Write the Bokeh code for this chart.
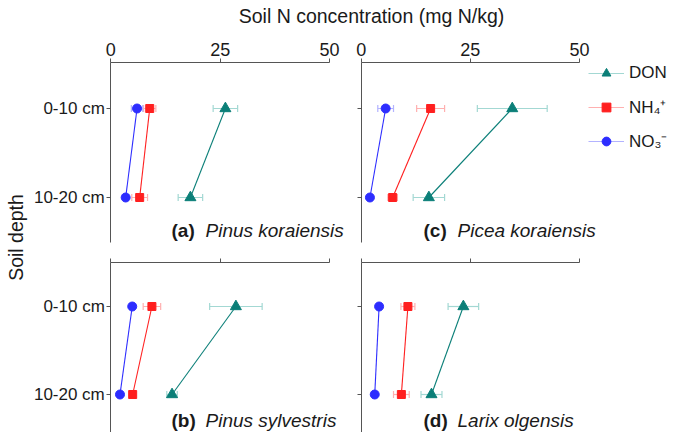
import numpy as np
from bokeh.plotting import figure
from bokeh.models import (ColumnDataSource, Range1d, FixedTicker, Label,
                          Legend, LegendItem, LinearAxis)
from bokeh.embed import file_html
from bokeh.resources import INLINE

# ---------------- data ----------------
depths = ["0-10 cm", "10-20 cm"]
depth_pos = [0, 1]
x_ticks = [0, 25, 50]
panel_letters = ["a", "c", "b", "d"]
species = ["Pinus koraiensis", "Picea koraiensis", "Pinus sylvestris", "Larix olgensis"]
series_names = ["DON", "NH\u2084\u207a", "NO\u2083\u207b"]

don_mean = [[26.2, 18.2], [34.6, 15.5], [28.6, 14.0], [23.4, 16.1]]
don_err = [[2.8, 2.8], [8.0, 3.6], [6.0, 1.2], [3.5, 2.4]]
nh4_mean = [[8.9, 6.6], [15.9, 7.2], [9.4, 5.0], [10.7, 9.2]]
nh4_err = [[1.4, 1.8], [3.2, 1.1], [2.0, 0.5], [1.6, 1.8]]
no3_mean = [[6.0, 3.4], [5.6, 2.0], [4.9, 2.1], [4.1, 3.1]]
no3_err = [[1.3, 0.6], [1.8, 0.5], [0.5, 0.4], [0.5, 0.5]]

# ---------------- layout constants (canvas pixels) ----------------
FONT = "Liberation Sans"
AXIS_C = "#555555"
TEXT_C = "#1a1a1a"
CX0, CX1, CY0, CY1 = 0, 669, 0, 432
W, H = CX1 - CX0, CY1 - CY0
COLS = {"xl": (110.3, 329.0), "xr": (360.7, 579.0)}      # pixel of x=0 and x=50
ROWS = {"yt": (108.0, 197.0, 62.0, 242.0),               # pixel of depth 0, depth 1, top, bottom
        "yb": (306.0, 394.0, 262.0, 432.0)}

styles = [
    dict(dark="#0b7f78", light="#a3d8d3", marker="triangle", size=11),
    dict(dark="#ff1f1f", light="#ffb0b0", marker="square", size=8),
    dict(dark="#2d2dff", light="#b3b3ff", marker="circle", size=9),
]
means = [don_mean, nh4_mean, no3_mean]
errs = [don_err, nh4_err, no3_err]


def xval(name, px):
    p0, p50 = COLS[name]
    return (px - p0) / (p50 - p0) * 50.0


def yval(name, py):
    p0, p1 = ROWS[name][:2]
    return (py - p0) / (p1 - p0)


p = figure(width=W, height=H, title=None, output_backend="svg", toolbar_location=None,
           x_axis_location=None, y_axis_location=None, min_border=0,
           x_range=Range1d(CX0, CX1), y_range=Range1d(CY1, CY0))
p.outline_line_color = None
p.background_fill_color = "white"
p.border_fill_color = "white"
p.grid.visible = False

p.extra_x_ranges = {n: Range1d(xval(n, CX0), xval(n, CX1)) for n in COLS}
p.extra_y_ranges = {n: Range1d(yval(n, CY1), yval(n, CY0)) for n in ROWS}

panel_ranges = [("xl", "yt"), ("xr", "yt"), ("xl", "yb"), ("xr", "yb")]
label_base = {"yt": 230, "yb": 420}
label_left = {"xl": (171, 205), "xr": (423, 457)}

legend_src = None
for i, (xn, yn) in enumerate(panel_ranges):
    show_x = yn == "yt"
    show_y = xn == "xl"
    top_px, bot_px = ROWS[yn][2], ROWS[yn][3]

    xa = LinearAxis(x_range_name=xn, y_range_name=yn, fixed_location=yval(yn, top_px),
                    bounds=(0, 50), ticker=FixedTicker(ticks=x_ticks))
    ya = LinearAxis(x_range_name=xn, y_range_name=yn, fixed_location=0,
                    bounds=(yval(yn, top_px), yval(yn, bot_px)),
                    ticker=FixedTicker(ticks=depth_pos))
    for ax in (xa, ya):
        ax.minor_tick_line_color = None
        ax.major_tick_in = 0
        ax.major_tick_out = 4
        ax.axis_line_color = AXIS_C
        ax.major_tick_line_color = AXIS_C
        ax.major_label_text_font = FONT
        ax.major_label_text_color = TEXT_C
    xa.major_label_standoff = 3
    ya.major_label_standoff = 2
    if show_x:
        xa.major_label_text_font_size = "18px"
    else:
        xa.major_label_overrides = {t: "" for t in x_ticks}
        xa.major_label_text_font_size = "0px"
    if show_y:
        ya.major_label_overrides = {d: t for d, t in zip(depth_pos, depths)}
        ya.major_label_text_font_size = "17px"
    else:
        ya.major_label_overrides = {d: "" for d in depth_pos}
        ya.major_label_text_font_size = "0px"
    p.add_layout(xa, "above")
    p.add_layout(ya, "left")

    sources = []
    for s in range(3):
        m = np.array(means[s][i])
        e = np.array(errs[s][i])
        sources.append(ColumnDataSource(dict(x=m, y=depth_pos, lo=m - e, hi=m + e)))

    kw = dict(x_range_name=xn, y_range_name=yn)
    err_r = []
    for s in range(3):
        st = styles[s]
        r = p.segment(x0="lo", y0="y", x1="hi", y1="y", source=sources[s],
                      line_color=st["light"], line_width=1.2, **kw)
        err_r.append(r)
        for col in ("lo", "hi"):
            p.scatter(x=col, y="y", source=sources[s], marker="dash", angle=np.pi / 2,
                      size=7, line_color=st["light"], line_width=1.2, **kw)
    for s in range(3):
        st = styles[s]
        p.line(x="x", y="y", source=sources[s], line_color=st["dark"], line_width=1.1, **kw)
    mk_r = []
    for s in range(3):
        st = styles[s]
        r = p.scatter(x="x", y="y", source=sources[s], marker=st["marker"],
                      size=st["size"], fill_color=st["dark"], line_color=st["dark"], **kw)
        mk_r.append(r)
    if i == 0:
        legend_src = (err_r, mk_r)

    lx0, lx1 = label_left[xn]
    p.add_layout(Label(x=lx0, y=label_base[yn], text="(" + panel_letters[i] + ")",
                       text_font=FONT, text_font_size="19px", text_font_style="bold",
                       text_color=TEXT_C, text_baseline="alphabetic"))
    p.add_layout(Label(x=lx1, y=label_base[yn], text=species[i],
                       text_font=FONT, text_font_size="19px", text_font_style="italic",
                       text_color=TEXT_C, text_baseline="alphabetic"))

# titles
p.add_layout(Label(x=371, y=15.5, text="Soil N concentration (mg N/kg)",
                   text_align="center", text_baseline="alphabetic",
                   text_font=FONT, text_font_size="19.5px", text_color=TEXT_C))
p.add_layout(Label(x=15.5, y=237, text="Soil depth", angle=np.pi / 2,
                   text_align="center", text_baseline="alphabetic",
                   text_font=FONT, text_font_size="19.5px", text_color=TEXT_C))

# legend
err_r, mk_r = legend_src
items = [LegendItem(label=series_names[s], renderers=[err_r[s], mk_r[s]]) for s in range(3)]
lg = Legend(items=items, location=(588 - CX0, CY1 - 152), margin=0, padding=0,
            spacing=11, glyph_width=36, glyph_height=22, label_height=22,
            label_standoff=5, label_text_font=FONT,
            label_text_font_size="17px", label_text_color=TEXT_C,
            background_fill_alpha=0, border_line_color=None)
p.add_layout(lg, "center")

open("out.html", "w").write(file_html(p, INLINE))
